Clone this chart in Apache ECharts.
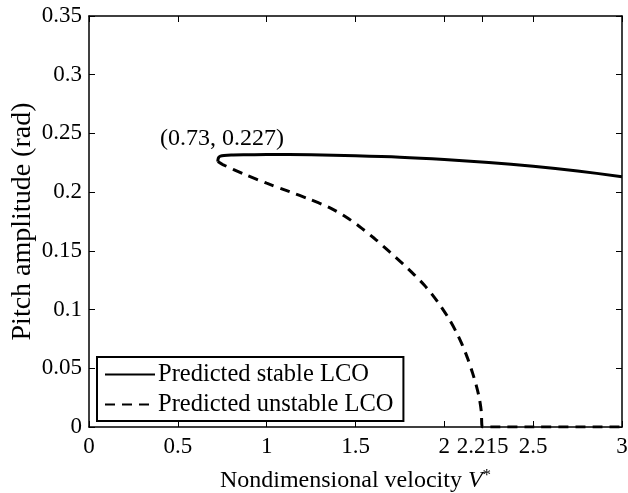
<!DOCTYPE html>
<html>
<head>
<meta charset="utf-8">
<script src="https://cdn.jsdelivr.net/npm/echarts@6.0.0/dist/echarts.min.js"></script>
<style>
  html, body { margin: 0; padding: 0; background: #fff; }
  #main { width: 628px; height: 493px; }
</style>
</head>
<body>
<div id="main"></div>
<script>
// 数据 - 从图上读取
var xTicks = [0, 0.5, 1, 1.5, 2, 2.215, 2.5, 3];

// 稳定LCO（实线）
var stableX = [0.725, 0.726, 0.73, 0.74, 0.76, 0.8, 0.9, 1.0, 1.25, 1.5, 1.75, 2.0, 2.25, 2.5, 2.75, 3.0];
var stableY = [0.226, 0.2278, 0.2295, 0.2306, 0.2312, 0.2316, 0.2318, 0.232, 0.2318, 0.231, 0.2298, 0.2278, 0.2252, 0.222, 0.218, 0.2132];

// 不稳定LCO（虚线）
var unstableX = [0.725, 0.753, 0.876, 1.0, 1.129, 1.242, 1.354, 1.438, 1.522, 1.607, 1.691, 1.764, 1.831, 1.888, 1.933, 1.983, 2.028, 2.067, 2.101, 2.129, 2.157, 2.18, 2.197, 2.208, 2.215, 2.5, 3.0];
var unstableY = [0.226, 0.2235, 0.2151, 0.2076, 0.2004, 0.1939, 0.1868, 0.1797, 0.1708, 0.1605, 0.1493, 0.1393, 0.1296, 0.1207, 0.1125, 0.1022, 0.0916, 0.0809, 0.0699, 0.0593, 0.0469, 0.0353, 0.0244, 0.0133, 0, 0, 0];

var pointLabel = '(0.73, 0.227)';

function zip(xs, ys) {
    return xs.map(function (x, i) { return [x, ys[i]]; });
}

var FONT = '"Liberation Serif", "Times New Roman", serif';

var myChart = echarts.init(document.getElementById('main'), null, { renderer: 'canvas' });

var axisLineStyle = { color: '#000', width: 1.5 };

myChart.setOption({
    animation: false,
    backgroundColor: '#fff',
    textStyle: { fontFamily: FONT, color: '#000' },
    grid: { left: 89, right: 6, top: 16, bottom: 66, outerBoundsMode: 'none', containLabel: false },
    legend: {
        left: 97,
        top: 357,
        orient: 'vertical',
        backgroundColor: '#fff',
        borderColor: '#000',
        borderWidth: 2,
        borderRadius: 0,
        padding: [5, 10, 4, 7],
        itemGap: 5,
        itemWidth: 50,
        itemHeight: 14,
        itemStyle: { opacity: 0 },
        textStyle: { fontFamily: FONT, fontSize: 24.5, color: '#000', padding: [0, 0, 0, -2] },
        data: ['Predicted stable LCO', 'Predicted unstable LCO']
    },
    xAxis: [{
        type: 'value',
        min: 0,
        max: 3,
        position: 'bottom',
        name: '{a|Nondimensional velocity }{i|V}{s|*}',
        nameLocation: 'middle',
        nameGap: 40,
        nameMoveOverlap: false,
        nameTextStyle: {
            rich: {
                a: { fontFamily: FONT, fontSize: 24, color: '#000' },
                i: { fontFamily: FONT, fontSize: 24, fontStyle: 'italic', color: '#000' },
                s: { fontFamily: FONT, fontSize: 17, color: '#000', verticalAlign: 'top', padding: [0, 0, 10, 0] }
            }
        },
        axisLine: { show: true, onZero: false, lineStyle: axisLineStyle },
        axisTick: { show: true, inside: true, length: 6, customValues: xTicks, lineStyle: { color: '#000' } },
        axisLabel: { customValues: xTicks, fontFamily: FONT, fontSize: 23, color: '#000', margin: 8,
            formatter: function (v) { return String(v); } },
        splitLine: { show: false }
    }, {
        type: 'value',
        min: 0,
        max: 3,
        position: 'top',
        axisLine: { show: true, onZero: false, lineStyle: axisLineStyle },
        axisTick: { show: true, inside: true, length: 6, customValues: xTicks, lineStyle: { color: '#000' } },
        axisLabel: { show: false },
        splitLine: { show: false }
    }],
    yAxis: [{
        type: 'value',
        min: 0,
        max: 0.35,
        interval: 0.05,
        position: 'left',
        name: 'Pitch amplitude (rad)',
        nameLocation: 'middle',
        nameGap: 52,
        nameMoveOverlap: false,
        nameTextStyle: { fontFamily: FONT, fontSize: 28, color: '#000' },
        axisLine: { show: true, onZero: false, lineStyle: axisLineStyle },
        axisTick: { show: true, inside: true, length: 6, lineStyle: { color: '#000' } },
        axisLabel: { fontFamily: FONT, fontSize: 23, color: '#000', margin: 7,
            formatter: function (v) { return String(+v.toFixed(2)); } },
        splitLine: { show: false }
    }, {
        type: 'value',
        min: 0,
        max: 0.35,
        interval: 0.05,
        position: 'right',
        axisLine: { show: true, onZero: false, lineStyle: axisLineStyle },
        axisTick: { show: true, inside: true, length: 6, lineStyle: { color: '#000' } },
        axisLabel: { show: false },
        splitLine: { show: false }
    }],
    graphic: [{
        type: 'text',
        left: 160,
        top: 127,
        style: { text: pointLabel, font: '24px ' + FONT, fill: '#000' }
    }],
    series: [{
        name: 'Predicted stable LCO',
        type: 'line',
        symbol: 'none',
        smooth: 0.3,
        data: zip(stableX, stableY),
        lineStyle: { color: '#000', width: 3, type: 'solid' },
        itemStyle: { color: '#000' }
    }, {
        name: 'Predicted unstable LCO',
        type: 'line',
        symbol: 'none',
        smooth: 0.3,
        data: zip(unstableX, unstableY),
        lineStyle: { color: '#000', width: 3, type: [10, 7] },
        itemStyle: { color: '#000' }
    }]
});
</script>
</body>
</html>
